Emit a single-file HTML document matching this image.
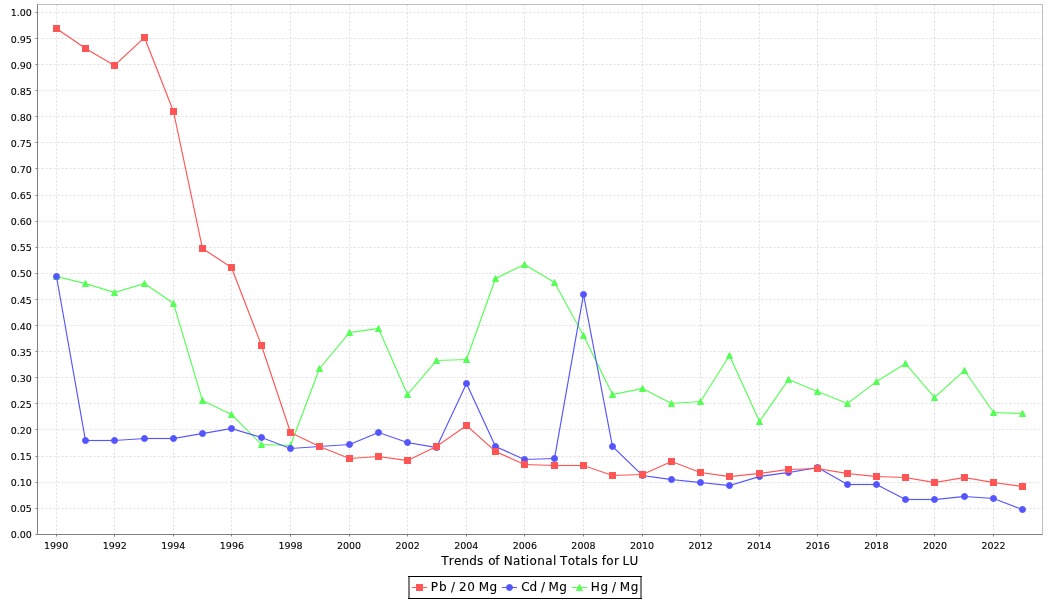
<!DOCTYPE html>
<html><head><meta charset="utf-8"><title>Trends of National Totals for LU</title>
<style>
html,body{margin:0;padding:0;background:#fff;}
body{width:1050px;height:600px;overflow:hidden;}
svg{display:block;}
text{font-family:"DejaVu Sans","Liberation Sans",sans-serif;fill:#000;stroke:#000;stroke-width:0.1px;}
.yt{font-size:9.5px;text-anchor:end;}
.xt{font-size:9.5px;text-anchor:middle;}
.lbl{font-size:12px;}
</style></head><body>
<svg width="1050" height="600" viewBox="0 0 1050 600">
<rect x="0" y="0" width="1050" height="600" fill="#fff"/>
<g stroke="#c0c0c0" stroke-width="0.5" stroke-dasharray="2 2" fill="none"><line x1="37.5" y1="508.5" x2="1042.5" y2="508.5"/><line x1="37.5" y1="482.5" x2="1042.5" y2="482.5"/><line x1="37.5" y1="456.5" x2="1042.5" y2="456.5"/><line x1="37.5" y1="429.5" x2="1042.5" y2="429.5"/><line x1="37.5" y1="403.5" x2="1042.5" y2="403.5"/><line x1="37.5" y1="377.5" x2="1042.5" y2="377.5"/><line x1="37.5" y1="351.5" x2="1042.5" y2="351.5"/><line x1="37.5" y1="325.5" x2="1042.5" y2="325.5"/><line x1="37.5" y1="299.5" x2="1042.5" y2="299.5"/><line x1="37.5" y1="273.5" x2="1042.5" y2="273.5"/><line x1="37.5" y1="247.5" x2="1042.5" y2="247.5"/><line x1="37.5" y1="221.5" x2="1042.5" y2="221.5"/><line x1="37.5" y1="195.5" x2="1042.5" y2="195.5"/><line x1="37.5" y1="168.5" x2="1042.5" y2="168.5"/><line x1="37.5" y1="142.5" x2="1042.5" y2="142.5"/><line x1="37.5" y1="116.5" x2="1042.5" y2="116.5"/><line x1="37.5" y1="90.5" x2="1042.5" y2="90.5"/><line x1="37.5" y1="64.5" x2="1042.5" y2="64.5"/><line x1="37.5" y1="38.5" x2="1042.5" y2="38.5"/><line x1="37.5" y1="12.5" x2="1042.5" y2="12.5"/><line x1="56.5" y1="4.5" x2="56.5" y2="534.5"/><line x1="114.5" y1="4.5" x2="114.5" y2="534.5"/><line x1="173.5" y1="4.5" x2="173.5" y2="534.5"/><line x1="231.5" y1="4.5" x2="231.5" y2="534.5"/><line x1="290.5" y1="4.5" x2="290.5" y2="534.5"/><line x1="349.5" y1="4.5" x2="349.5" y2="534.5"/><line x1="407.5" y1="4.5" x2="407.5" y2="534.5"/><line x1="466.5" y1="4.5" x2="466.5" y2="534.5"/><line x1="524.5" y1="4.5" x2="524.5" y2="534.5"/><line x1="583.5" y1="4.5" x2="583.5" y2="534.5"/><line x1="642.5" y1="4.5" x2="642.5" y2="534.5"/><line x1="700.5" y1="4.5" x2="700.5" y2="534.5"/><line x1="759.5" y1="4.5" x2="759.5" y2="534.5"/><line x1="817.5" y1="4.5" x2="817.5" y2="534.5"/><line x1="876.5" y1="4.5" x2="876.5" y2="534.5"/><line x1="934.5" y1="4.5" x2="934.5" y2="534.5"/><line x1="993.5" y1="4.5" x2="993.5" y2="534.5"/></g>
<rect x="37.5" y="4.5" width="1005" height="530" fill="none" stroke="#808080" stroke-width="0.5"/>
<g stroke="#808080" stroke-width="1" fill="none"><line x1="37.5" y1="4.5" x2="37.5" y2="534.5"/><line x1="37.5" y1="534.5" x2="1042.5" y2="534.5"/><line x1="35.5" y1="534.5" x2="37.5" y2="534.5"/><line x1="35.5" y1="508.5" x2="37.5" y2="508.5"/><line x1="35.5" y1="482.5" x2="37.5" y2="482.5"/><line x1="35.5" y1="456.5" x2="37.5" y2="456.5"/><line x1="35.5" y1="429.5" x2="37.5" y2="429.5"/><line x1="35.5" y1="403.5" x2="37.5" y2="403.5"/><line x1="35.5" y1="377.5" x2="37.5" y2="377.5"/><line x1="35.5" y1="351.5" x2="37.5" y2="351.5"/><line x1="35.5" y1="325.5" x2="37.5" y2="325.5"/><line x1="35.5" y1="299.5" x2="37.5" y2="299.5"/><line x1="35.5" y1="273.5" x2="37.5" y2="273.5"/><line x1="35.5" y1="247.5" x2="37.5" y2="247.5"/><line x1="35.5" y1="221.5" x2="37.5" y2="221.5"/><line x1="35.5" y1="195.5" x2="37.5" y2="195.5"/><line x1="35.5" y1="168.5" x2="37.5" y2="168.5"/><line x1="35.5" y1="142.5" x2="37.5" y2="142.5"/><line x1="35.5" y1="116.5" x2="37.5" y2="116.5"/><line x1="35.5" y1="90.5" x2="37.5" y2="90.5"/><line x1="35.5" y1="64.5" x2="37.5" y2="64.5"/><line x1="35.5" y1="38.5" x2="37.5" y2="38.5"/><line x1="35.5" y1="12.5" x2="37.5" y2="12.5"/><line x1="56.5" y1="534.5" x2="56.5" y2="536.5"/><line x1="114.5" y1="534.5" x2="114.5" y2="536.5"/><line x1="173.5" y1="534.5" x2="173.5" y2="536.5"/><line x1="231.5" y1="534.5" x2="231.5" y2="536.5"/><line x1="290.5" y1="534.5" x2="290.5" y2="536.5"/><line x1="349.5" y1="534.5" x2="349.5" y2="536.5"/><line x1="407.5" y1="534.5" x2="407.5" y2="536.5"/><line x1="466.5" y1="534.5" x2="466.5" y2="536.5"/><line x1="524.5" y1="534.5" x2="524.5" y2="536.5"/><line x1="583.5" y1="534.5" x2="583.5" y2="536.5"/><line x1="642.5" y1="534.5" x2="642.5" y2="536.5"/><line x1="700.5" y1="534.5" x2="700.5" y2="536.5"/><line x1="759.5" y1="534.5" x2="759.5" y2="536.5"/><line x1="817.5" y1="534.5" x2="817.5" y2="536.5"/><line x1="876.5" y1="534.5" x2="876.5" y2="536.5"/><line x1="934.5" y1="534.5" x2="934.5" y2="536.5"/><line x1="993.5" y1="534.5" x2="993.5" y2="536.5"/></g>
<text class="yt" x="31.8" y="538">0.00</text><text class="yt" x="31.8" y="512">0.05</text><text class="yt" x="31.8" y="486">0.10</text><text class="yt" x="31.8" y="460">0.15</text><text class="yt" x="31.8" y="434">0.20</text><text class="yt" x="31.8" y="408">0.25</text><text class="yt" x="31.8" y="382">0.30</text><text class="yt" x="31.8" y="356">0.35</text><text class="yt" x="31.8" y="330">0.40</text><text class="yt" x="31.8" y="304">0.45</text><text class="yt" x="31.8" y="277">0.50</text><text class="yt" x="31.8" y="251">0.55</text><text class="yt" x="31.8" y="225">0.60</text><text class="yt" x="31.8" y="199">0.65</text><text class="yt" x="31.8" y="173">0.70</text><text class="yt" x="31.8" y="147">0.75</text><text class="yt" x="31.8" y="121">0.80</text><text class="yt" x="31.8" y="95">0.85</text><text class="yt" x="31.8" y="69">0.90</text><text class="yt" x="31.8" y="43">0.95</text><text class="yt" x="31.8" y="16">1.00</text>
<text class="xt" x="56.13" y="549">1990</text><text class="xt" x="114.72" y="549">1992</text><text class="xt" x="173.31" y="549">1994</text><text class="xt" x="231.90" y="549">1996</text><text class="xt" x="290.49" y="549">1998</text><text class="xt" x="349.08" y="549">2000</text><text class="xt" x="407.67" y="549">2002</text><text class="xt" x="466.26" y="549">2004</text><text class="xt" x="524.85" y="549">2006</text><text class="xt" x="583.44" y="549">2008</text><text class="xt" x="642.03" y="549">2010</text><text class="xt" x="700.62" y="549">2012</text><text class="xt" x="759.21" y="549">2014</text><text class="xt" x="817.80" y="549">2016</text><text class="xt" x="876.39" y="549">2018</text><text class="xt" x="934.98" y="549">2020</text><text class="xt" x="993.57" y="549">2022</text>
<text class="lbl" x="441.34 448.83 453.93 461.48 469.25 477.03 483.20 488.24 495.25 500.20 503.68 513.04 520.77 525.85 529.56 537.28 545.26 552.99 555.70 560.04 567.63 575.24 580.21 587.83 591.43 597.60 601.72 606.29 613.97 619.40 622.52 629.56" y="565">Trends of National Totals for LU</text>
<g stroke="#55ff55" stroke-width="1.15" stroke-linecap="square"><line x1="56.5" y1="276.5" x2="85.5" y2="283.5"/><line x1="85.5" y1="283.5" x2="114.5" y2="292.5"/><line x1="114.5" y1="292.5" x2="144.5" y2="283.5"/><line x1="144.5" y1="283.5" x2="173.5" y2="303.5"/><line x1="173.5" y1="303.5" x2="202.5" y2="400.5"/><line x1="202.5" y1="400.5" x2="231.5" y2="414.5"/><line x1="231.5" y1="414.5" x2="261.5" y2="444.5"/><line x1="261.5" y1="444.5" x2="290.5" y2="445.5"/><line x1="290.5" y1="445.5" x2="319.5" y2="368.5"/><line x1="319.5" y1="368.5" x2="349.5" y2="332.5"/><line x1="349.5" y1="332.5" x2="378.5" y2="328.5"/><line x1="378.5" y1="328.5" x2="407.5" y2="394.5"/><line x1="407.5" y1="394.5" x2="436.5" y2="360.5"/><line x1="436.5" y1="360.5" x2="466.5" y2="359.5"/><line x1="466.5" y1="359.5" x2="495.5" y2="278.5"/><line x1="495.5" y1="278.5" x2="524.5" y2="264.5"/><line x1="524.5" y1="264.5" x2="554.5" y2="282.5"/><line x1="554.5" y1="282.5" x2="583.5" y2="335.5"/><line x1="583.5" y1="335.5" x2="612.5" y2="394.5"/><line x1="612.5" y1="394.5" x2="642.5" y2="388.5"/><line x1="642.5" y1="388.5" x2="671.5" y2="403.5"/><line x1="671.5" y1="403.5" x2="700.5" y2="401.5"/><line x1="700.5" y1="401.5" x2="729.5" y2="355.5"/><line x1="729.5" y1="355.5" x2="759.5" y2="421.5"/><line x1="759.5" y1="421.5" x2="788.5" y2="379.5"/><line x1="788.5" y1="379.5" x2="817.5" y2="391.5"/><line x1="817.5" y1="391.5" x2="847.5" y2="403.5"/><line x1="847.5" y1="403.5" x2="876.5" y2="381.5"/><line x1="876.5" y1="381.5" x2="905.5" y2="363.5"/><line x1="905.5" y1="363.5" x2="934.5" y2="397.5"/><line x1="934.5" y1="397.5" x2="964.5" y2="370.5"/><line x1="964.5" y1="370.5" x2="993.5" y2="412.5"/><line x1="993.5" y1="412.5" x2="1022.5" y2="413.5"/></g>
<g stroke="#5555ff" stroke-width="1.15" stroke-linecap="square"><line x1="56.5" y1="276.5" x2="85.5" y2="440.5"/><line x1="85.5" y1="440.5" x2="114.5" y2="440.5"/><line x1="114.5" y1="440.5" x2="144.5" y2="438.5"/><line x1="144.5" y1="438.5" x2="173.5" y2="438.5"/><line x1="173.5" y1="438.5" x2="202.5" y2="433.5"/><line x1="202.5" y1="433.5" x2="231.5" y2="428.5"/><line x1="231.5" y1="428.5" x2="261.5" y2="437.5"/><line x1="261.5" y1="437.5" x2="290.5" y2="448.5"/><line x1="290.5" y1="448.5" x2="319.5" y2="446.5"/><line x1="319.5" y1="446.5" x2="349.5" y2="444.5"/><line x1="349.5" y1="444.5" x2="378.5" y2="432.5"/><line x1="378.5" y1="432.5" x2="407.5" y2="442.5"/><line x1="407.5" y1="442.5" x2="436.5" y2="447.5"/><line x1="436.5" y1="447.5" x2="466.5" y2="383.5"/><line x1="466.5" y1="383.5" x2="495.5" y2="446.5"/><line x1="495.5" y1="446.5" x2="524.5" y2="459.5"/><line x1="524.5" y1="459.5" x2="554.5" y2="458.5"/><line x1="554.5" y1="458.5" x2="583.5" y2="294.5"/><line x1="583.5" y1="294.5" x2="612.5" y2="446.5"/><line x1="612.5" y1="446.5" x2="642.5" y2="475.5"/><line x1="642.5" y1="475.5" x2="671.5" y2="479.5"/><line x1="671.5" y1="479.5" x2="700.5" y2="482.5"/><line x1="700.5" y1="482.5" x2="729.5" y2="485.5"/><line x1="729.5" y1="485.5" x2="759.5" y2="476.5"/><line x1="759.5" y1="476.5" x2="788.5" y2="472.5"/><line x1="788.5" y1="472.5" x2="817.5" y2="467.5"/><line x1="817.5" y1="467.5" x2="847.5" y2="484.5"/><line x1="847.5" y1="484.5" x2="876.5" y2="484.5"/><line x1="876.5" y1="484.5" x2="905.5" y2="499.5"/><line x1="905.5" y1="499.5" x2="934.5" y2="499.5"/><line x1="934.5" y1="499.5" x2="964.5" y2="496.5"/><line x1="964.5" y1="496.5" x2="993.5" y2="498.5"/><line x1="993.5" y1="498.5" x2="1022.5" y2="509.5"/></g>
<g stroke="#ff5555" stroke-width="1.15" stroke-linecap="square"><line x1="56.5" y1="28.5" x2="85.5" y2="48.5"/><line x1="85.5" y1="48.5" x2="114.5" y2="65.5"/><line x1="114.5" y1="65.5" x2="144.5" y2="37.5"/><line x1="144.5" y1="37.5" x2="173.5" y2="111.5"/><line x1="173.5" y1="111.5" x2="202.5" y2="248.5"/><line x1="202.5" y1="248.5" x2="231.5" y2="267.5"/><line x1="231.5" y1="267.5" x2="261.5" y2="345.5"/><line x1="261.5" y1="345.5" x2="290.5" y2="432.5"/><line x1="290.5" y1="432.5" x2="319.5" y2="446.5"/><line x1="319.5" y1="446.5" x2="349.5" y2="458.5"/><line x1="349.5" y1="458.5" x2="378.5" y2="456.5"/><line x1="378.5" y1="456.5" x2="407.5" y2="460.5"/><line x1="407.5" y1="460.5" x2="436.5" y2="446.5"/><line x1="436.5" y1="446.5" x2="466.5" y2="425.5"/><line x1="466.5" y1="425.5" x2="495.5" y2="451.5"/><line x1="495.5" y1="451.5" x2="524.5" y2="464.5"/><line x1="524.5" y1="464.5" x2="554.5" y2="465.5"/><line x1="554.5" y1="465.5" x2="583.5" y2="465.5"/><line x1="583.5" y1="465.5" x2="612.5" y2="475.5"/><line x1="612.5" y1="475.5" x2="642.5" y2="474.5"/><line x1="642.5" y1="474.5" x2="671.5" y2="461.5"/><line x1="671.5" y1="461.5" x2="700.5" y2="472.5"/><line x1="700.5" y1="472.5" x2="729.5" y2="476.5"/><line x1="729.5" y1="476.5" x2="759.5" y2="473.5"/><line x1="759.5" y1="473.5" x2="788.5" y2="469.5"/><line x1="788.5" y1="469.5" x2="817.5" y2="468.5"/><line x1="817.5" y1="468.5" x2="847.5" y2="473.5"/><line x1="847.5" y1="473.5" x2="876.5" y2="476.5"/><line x1="876.5" y1="476.5" x2="905.5" y2="477.5"/><line x1="905.5" y1="477.5" x2="934.5" y2="482.5"/><line x1="934.5" y1="482.5" x2="964.5" y2="477.5"/><line x1="964.5" y1="477.5" x2="993.5" y2="482.5"/><line x1="993.5" y1="482.5" x2="1022.5" y2="486.5"/></g>
<g fill="#55ff55" stroke="#55ff55" stroke-width="1"><polygon points="56.5,273.5 59.5,279.5 53.5,279.5"/><polygon points="85.5,280.5 88.5,286.5 82.5,286.5"/><polygon points="114.5,289.5 117.5,295.5 111.5,295.5"/><polygon points="144.5,280.5 147.5,286.5 141.5,286.5"/><polygon points="173.5,300.5 176.5,306.5 170.5,306.5"/><polygon points="202.5,397.5 205.5,403.5 199.5,403.5"/><polygon points="231.5,411.5 234.5,417.5 228.5,417.5"/><polygon points="261.5,441.5 264.5,447.5 258.5,447.5"/><polygon points="290.5,442.5 293.5,448.5 287.5,448.5"/><polygon points="319.5,365.5 322.5,371.5 316.5,371.5"/><polygon points="349.5,329.5 352.5,335.5 346.5,335.5"/><polygon points="378.5,325.5 381.5,331.5 375.5,331.5"/><polygon points="407.5,391.5 410.5,397.5 404.5,397.5"/><polygon points="436.5,357.5 439.5,363.5 433.5,363.5"/><polygon points="466.5,356.5 469.5,362.5 463.5,362.5"/><polygon points="495.5,275.5 498.5,281.5 492.5,281.5"/><polygon points="524.5,261.5 527.5,267.5 521.5,267.5"/><polygon points="554.5,279.5 557.5,285.5 551.5,285.5"/><polygon points="583.5,332.5 586.5,338.5 580.5,338.5"/><polygon points="612.5,391.5 615.5,397.5 609.5,397.5"/><polygon points="642.5,385.5 645.5,391.5 639.5,391.5"/><polygon points="671.5,400.5 674.5,406.5 668.5,406.5"/><polygon points="700.5,398.5 703.5,404.5 697.5,404.5"/><polygon points="729.5,352.5 732.5,358.5 726.5,358.5"/><polygon points="759.5,418.5 762.5,424.5 756.5,424.5"/><polygon points="788.5,376.5 791.5,382.5 785.5,382.5"/><polygon points="817.5,388.5 820.5,394.5 814.5,394.5"/><polygon points="847.5,400.5 850.5,406.5 844.5,406.5"/><polygon points="876.5,378.5 879.5,384.5 873.5,384.5"/><polygon points="905.5,360.5 908.5,366.5 902.5,366.5"/><polygon points="934.5,394.5 937.5,400.5 931.5,400.5"/><polygon points="964.5,367.5 967.5,373.5 961.5,373.5"/><polygon points="993.5,409.5 996.5,415.5 990.5,415.5"/><polygon points="1022.5,410.5 1025.5,416.5 1019.5,416.5"/></g>
<g fill="#5555ff" stroke="#5555ff" stroke-width="1"><circle cx="56.5" cy="276.5" r="3"/><circle cx="85.5" cy="440.5" r="3"/><circle cx="114.5" cy="440.5" r="3"/><circle cx="144.5" cy="438.5" r="3"/><circle cx="173.5" cy="438.5" r="3"/><circle cx="202.5" cy="433.5" r="3"/><circle cx="231.5" cy="428.5" r="3"/><circle cx="261.5" cy="437.5" r="3"/><circle cx="290.5" cy="448.5" r="3"/><circle cx="319.5" cy="446.5" r="3"/><circle cx="349.5" cy="444.5" r="3"/><circle cx="378.5" cy="432.5" r="3"/><circle cx="407.5" cy="442.5" r="3"/><circle cx="436.5" cy="447.5" r="3"/><circle cx="466.5" cy="383.5" r="3"/><circle cx="495.5" cy="446.5" r="3"/><circle cx="524.5" cy="459.5" r="3"/><circle cx="554.5" cy="458.5" r="3"/><circle cx="583.5" cy="294.5" r="3"/><circle cx="612.5" cy="446.5" r="3"/><circle cx="642.5" cy="475.5" r="3"/><circle cx="671.5" cy="479.5" r="3"/><circle cx="700.5" cy="482.5" r="3"/><circle cx="729.5" cy="485.5" r="3"/><circle cx="759.5" cy="476.5" r="3"/><circle cx="788.5" cy="472.5" r="3"/><circle cx="817.5" cy="467.5" r="3"/><circle cx="847.5" cy="484.5" r="3"/><circle cx="876.5" cy="484.5" r="3"/><circle cx="905.5" cy="499.5" r="3"/><circle cx="934.5" cy="499.5" r="3"/><circle cx="964.5" cy="496.5" r="3"/><circle cx="993.5" cy="498.5" r="3"/><circle cx="1022.5" cy="509.5" r="3"/></g>
<g fill="#ff5555" stroke="#ff5555" stroke-width="1"><rect x="53.5" y="25.5" width="6" height="6"/><rect x="82.5" y="45.5" width="6" height="6"/><rect x="111.5" y="62.5" width="6" height="6"/><rect x="141.5" y="34.5" width="6" height="6"/><rect x="170.5" y="108.5" width="6" height="6"/><rect x="199.5" y="245.5" width="6" height="6"/><rect x="228.5" y="264.5" width="6" height="6"/><rect x="258.5" y="342.5" width="6" height="6"/><rect x="287.5" y="429.5" width="6" height="6"/><rect x="316.5" y="443.5" width="6" height="6"/><rect x="346.5" y="455.5" width="6" height="6"/><rect x="375.5" y="453.5" width="6" height="6"/><rect x="404.5" y="457.5" width="6" height="6"/><rect x="433.5" y="443.5" width="6" height="6"/><rect x="463.5" y="422.5" width="6" height="6"/><rect x="492.5" y="448.5" width="6" height="6"/><rect x="521.5" y="461.5" width="6" height="6"/><rect x="551.5" y="462.5" width="6" height="6"/><rect x="580.5" y="462.5" width="6" height="6"/><rect x="609.5" y="472.5" width="6" height="6"/><rect x="639.5" y="471.5" width="6" height="6"/><rect x="668.5" y="458.5" width="6" height="6"/><rect x="697.5" y="469.5" width="6" height="6"/><rect x="726.5" y="473.5" width="6" height="6"/><rect x="756.5" y="470.5" width="6" height="6"/><rect x="785.5" y="466.5" width="6" height="6"/><rect x="814.5" y="465.5" width="6" height="6"/><rect x="844.5" y="470.5" width="6" height="6"/><rect x="873.5" y="473.5" width="6" height="6"/><rect x="902.5" y="474.5" width="6" height="6"/><rect x="931.5" y="479.5" width="6" height="6"/><rect x="961.5" y="474.5" width="6" height="6"/><rect x="990.5" y="479.5" width="6" height="6"/><rect x="1019.5" y="483.5" width="6" height="6"/></g>
<rect x="408" y="576" width="234" height="1" fill="#000"/><rect x="408" y="598" width="234" height="1" fill="#000"/><rect x="408" y="577" width="2" height="21" fill="#808080"/><rect x="640" y="577" width="2" height="21" fill="#808080"/>
<line x1="412.5" y1="587.5" x2="426.5" y2="587.5" stroke="#ff5555" stroke-width="1" stroke-linecap="square"/><rect x="416.5" y="584.5" width="6" height="6" fill="#ff5555" stroke="#ff5555"/><line x1="502.5" y1="587.5" x2="516.5" y2="587.5" stroke="#5555ff" stroke-width="1" stroke-linecap="square"/><circle cx="509.5" cy="587.5" r="3" fill="#5555ff" stroke="#5555ff"/><line x1="572.5" y1="587.5" x2="586.5" y2="587.5" stroke="#55ff55" stroke-width="1" stroke-linecap="square"/><polygon points="579.5,584.5 582.5,590.5 576.5,590.5" fill="#55ff55" stroke="#55ff55"/><text class="lbl" x="430.82 438.94 446.40 450.90 455.50 459.12 467.36 474.70 478.72 489.57" y="591">Pb / 20 Mg</text>
<text class="lbl" x="521.13 529.57 536.60 540.90 545.40 548.52 559.37" y="591">Cd / Mg</text>
<text class="lbl" x="590.82 600.57 607.60 612.00 616.50 619.72 630.77" y="591">Hg / Mg</text>
</svg>
</body></html>
